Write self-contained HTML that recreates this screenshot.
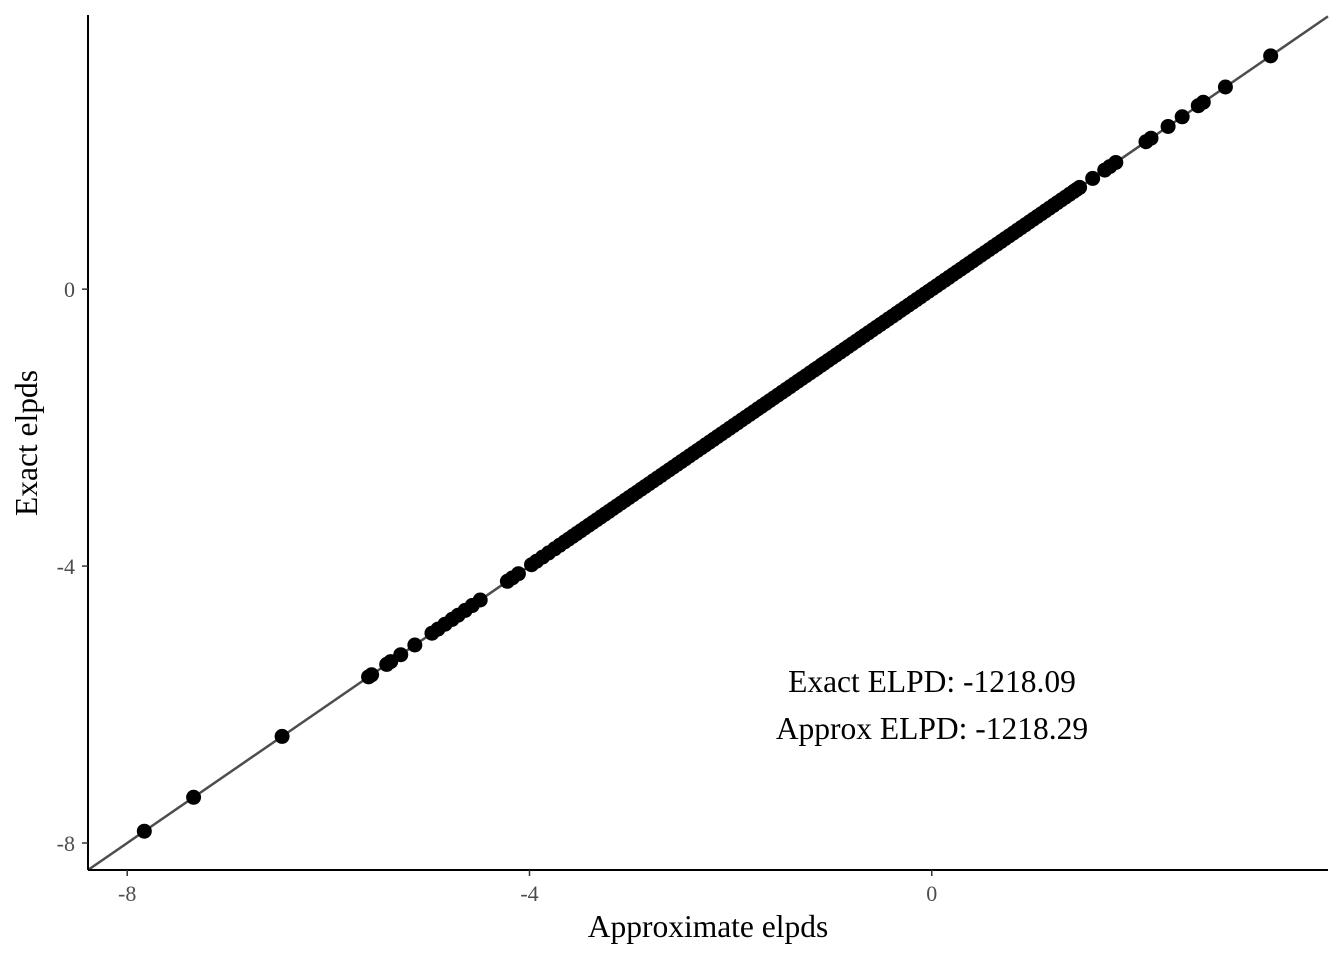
<!DOCTYPE html>
<html><head><meta charset="utf-8"><style>
html,body{margin:0;padding:0;background:#fff;}
svg{display:block;}
text{font-family:"Liberation Serif",serif;}
</style></head><body>
<svg id="chart" width="1344" height="960" viewBox="0 0 1344 960">
</svg>
<script>
const sparseLow = [-7.83,-7.34,-6.46,-5.6,-5.57,-5.42,-5.38,-5.28,-5.14,-4.97,-4.91,-4.84,-4.77,-4.71,-4.64,-4.57,-4.49,-4.22,-4.17,-4.11,-3.98,-3.93,-3.87,-3.81,-3.75,-3.70];
const denseMid = [-3.65,-3.57,-3.49,-3.41,-3.33,-3.25,-3.17,-3.09,-3.01,-2.93,-2.85,-2.77,-2.69,-2.61,-2.53,-2.45,-2.37,-2.29,-2.21,-2.13,-2.05,-1.97,-1.89,-1.81,-1.73,-1.65,-1.57,-1.49,-1.41,-1.33,-1.25,-1.17,-1.10,-1.07,-0.99,-0.91,-0.83,-0.75,-0.67,-0.59,-0.51,-0.43,-0.35,-0.27,-0.19,-0.11,-0.03,0.05,0.13,0.21,0.29,0.37,0.45,0.53,0.61,0.69,0.77,0.85,0.93,1.01,1.09,1.17,1.25,1.33,1.41,1.47];
const denseMid2 = [-3.61,-3.53,-3.45,-3.37,-3.29,-3.21,-3.13,-3.05,-2.97,-2.89,-2.81,-2.73,-2.65,-2.57,-2.49,-2.41,-2.33,-2.25,-2.17,-2.09,-2.01,-1.93,-1.85,-1.77,-1.69,-1.61,-1.53,-1.45,-1.37,-1.29,-1.21,-1.14,-1.03,-0.95,-0.87,-0.79,-0.71,-0.63,-0.55,-0.47,-0.39,-0.31,-0.23,-0.15,-0.07,0.01,0.09,0.17,0.25,0.33,0.41,0.49,0.57,0.65,0.73,0.81,0.89,0.97,1.05,1.13,1.21,1.29,1.37,1.44];
const sparseHigh = [1.6,1.72,1.77,1.83,2.13,2.18,2.35,2.49,2.65,2.70,2.92,3.37];
const approxElpds = sparseLow.concat(denseMid, denseMid2, sparseHigh);
const exactElpds = approxElpds.slice();
const xTicks = [-8,-4,0];
const yTicks = [-8,-4,0];
const xTickLabels = ["-8","-4","0"];
const yTickLabels = ["-8","-4","0"];
const annotations = ["Exact ELPD: -1218.09","Approx ELPD: -1218.29"];

const L=88,R=1328,T=15,B=870;
const xDom=[-8.39,3.94], yDom=[-8.39,3.96];
const sx=v=>L+(v-xDom[0])/(xDom[1]-xDom[0])*(R-L);
const sy=v=>B-(v-yDom[0])/(yDom[1]-yDom[0])*(B-T);
const NS="http://www.w3.org/2000/svg";
const svg=document.getElementById('chart');
function mk(tag,attrs,parent){const e=document.createElementNS(NS,tag);for(const k in attrs)e.setAttribute(k,attrs[k]);(parent||svg).appendChild(e);return e;}

const ln=mk('line',{x1:sx(xDom[0]),y1:sy(xDom[0]),x2:sx(3.94),y2:sy(3.94),stroke:'#4d4d4d','stroke-width':2.5});



approxElpds.forEach((v,i)=>{
  const c=mk('circle',{cx:sx(v),cy:sy(exactElpds[i]),r:7.5,fill:'#000'});
  
  
});

const xa=mk('line',{x1:L,y1:B,x2:R,y2:B,stroke:'#000','stroke-width':2});


const ya=mk('line',{x1:L,y1:T,x2:L,y2:B,stroke:'#000','stroke-width':2});



xTicks.forEach((v,i)=>{
  const t=mk('line',{x1:sx(v),y1:B,x2:sx(v),y2:B+6,stroke:'#333','stroke-width':1.5});
  
  
  const l=mk('text',{x:sx(v),y:B+31,'text-anchor':'middle','font-size':22,fill:'#4d4d4d'});
  l.textContent=xTickLabels[i];
  
  
});
yTicks.forEach((v,i)=>{
  const t=mk('line',{x1:L-6,y1:sy(v),x2:L,y2:sy(v),stroke:'#333','stroke-width':1.5});
  
  
  const l=mk('text',{x:L-13,y:sy(v)+8,'text-anchor':'end','font-size':22,fill:'#4d4d4d'});
  l.textContent=yTickLabels[i];
  
  
});

const xt=mk('text',{x:708,y:937,'text-anchor':'middle','font-size':31.5,fill:'#000'});
xt.textContent='Approximate elpds';


const yt=mk('text',{x:0,y:0,'text-anchor':'middle','font-size':31.5,fill:'#000',transform:'translate(37,443) rotate(-90)'});
yt.textContent='Exact elpds';



annotations.forEach((s,i)=>{
  const a=mk('text',{x:932,y:692+i*47,'text-anchor':'middle','font-size':31.5,fill:'#000'});
  a.textContent=s;
  
  
});
</script>
</body></html>
